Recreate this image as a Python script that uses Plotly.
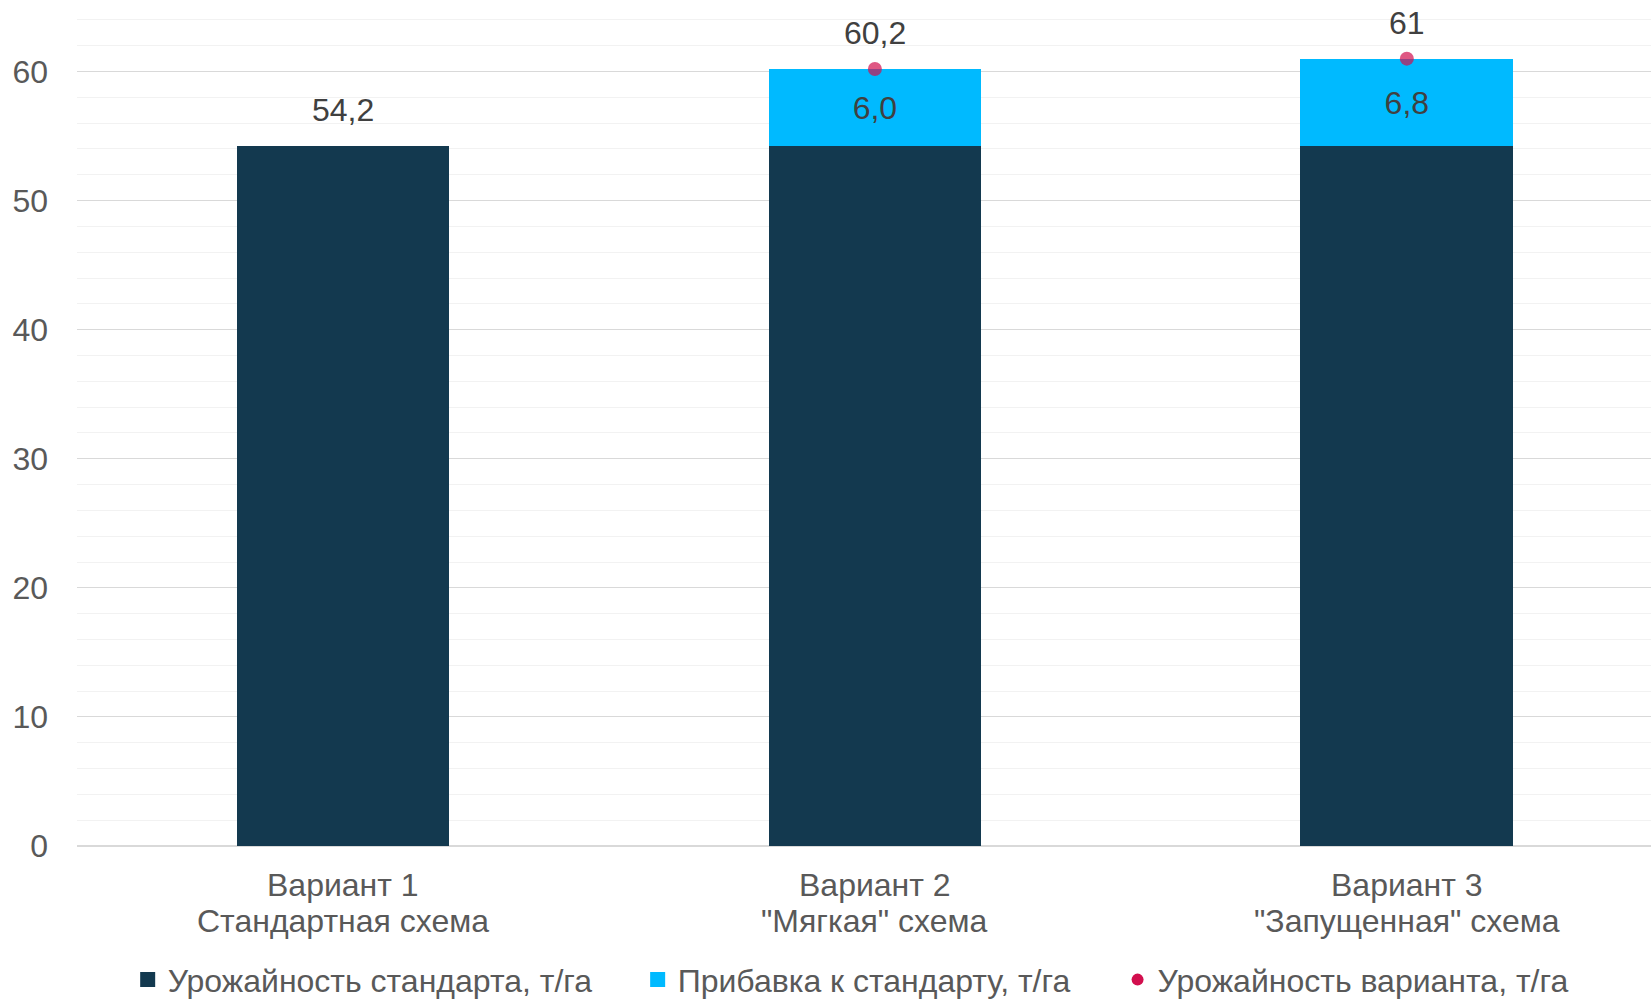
import plotly.graph_objects as go

# Yield data by treatment variant
variant_names = ["Вариант 1", "Вариант 2", "Вариант 3"]
scheme_names = ["Стандартная схема", "\"Мягкая\" схема", "\"Запущенная\" схема"]
standard_yield = [54.2, 54.2, 54.2]      # т/га
increase = [None, 6.0, 6.8]              # т/га
variant_yield = [54.2, 60.2, 61]         # т/га
variant_labels = ["54,2", "60,2", "61"]
increase_labels = ["", "6,0", "6,8"]
series_names = ["Урожайность стандарта, т/га",
                "Прибавка к стандарту, т/га",
                "Урожайность варианта, т/га"]

NAVY = "#13394F"
CYAN = "#00BAFF"
RED = "#D20F4E"
FONT = "Liberation Sans, Arial, sans-serif"
FS = 32
TXT = "#595959"
LBL = "#404040"

x = list(range(len(variant_names)))

fig = go.Figure()
fig.add_trace(go.Bar(
    x=x, y=standard_yield, name=series_names[0],
    marker=dict(color=NAVY, line=dict(width=0)), width=0.4,
    showlegend=False,
))
fig.add_trace(go.Bar(
    x=x, y=increase, name=series_names[1],
    marker=dict(color=CYAN, line=dict(width=0)), width=0.4,
    text=increase_labels, textposition="inside", insidetextanchor="middle",
    textfont=dict(family=FONT, size=FS, color=LBL),
    showlegend=False,
))
fig.add_trace(go.Scatter(
    x=x, y=variant_yield, name=series_names[2], mode="markers",
    marker=dict(color=RED, size=[0, 14, 14], line=dict(width=0)),
    showlegend=False,
))

# legend entries (one legend box per series)
legend_specs = [("legend", "square", NAVY, 15),
                ("legend2", "square", CYAN, 15),
                ("legend3", "circle", RED, 12)]
for name, (lg, sym, col, sz) in zip(series_names, legend_specs):
    fig.add_trace(go.Scatter(
        x=[None], y=[None], mode="markers", name=name, legend=lg,
        marker=dict(symbol=sym, color=col, size=sz, line=dict(width=0)),
        showlegend=True, hoverinfo="skip",
    ))

# totals above the columns
for xi, yi, lab in zip(x, variant_yield, variant_labels):
    fig.add_annotation(x=xi, y=yi, text=lab, showarrow=False, yshift=36,
                       font=dict(family=FONT, size=FS, color=LBL))

# two-line category labels under the axis
for xi, v, s in zip(x, variant_names, scheme_names):
    fig.add_annotation(x=xi, xref="x", y=0, yref="paper", yanchor="middle",
                       text=v, showarrow=False, yshift=-39,
                       font=dict(family=FONT, size=FS, color=TXT))
    fig.add_annotation(x=xi, xref="x", y=0, yref="paper", yanchor="middle",
                       text=s, showarrow=False, yshift=-75,
                       font=dict(family=FONT, size=FS, color=TXT))

legend_common = dict(orientation="h", yanchor="middle", y=-0.1595, xanchor="left",
                     font=dict(family=FONT, size=FS, color=TXT),
                     bgcolor="rgba(0,0,0,0)", borderwidth=0)

fig.update_layout(
    width=1651, height=1001,
    margin=dict(l=77, r=0, t=7, b=155, autoexpand=False),
    barmode="stack",
    plot_bgcolor="white", paper_bgcolor="white",
    font=dict(family=FONT, size=FS, color=TXT),
    showlegend=True,
    legend=dict(x=0.0322, **legend_common),
    legend2=dict(x=0.3562, **legend_common),
    legend3=dict(x=0.6611, **legend_common),
    xaxis=dict(
        range=[-0.5, 2.459], showticklabels=False,
        showgrid=False, zeroline=False, showline=False, ticks="",
    ),
    yaxis=dict(
        range=[0, 65], dtick=10, tick0=0,
        showgrid=True, gridcolor="#D9D9D9", gridwidth=1,
        zeroline=True, zerolinecolor="#D9D9D9", zerolinewidth=2,
        showline=False, ticks="", ticklabelstandoff=28,
        tickfont=dict(family=FONT, size=FS, color=TXT),
        minor=dict(dtick=2, showgrid=True, gridcolor="#F2F2F2", gridwidth=1),
    ),
)

fig.write_html("out.html")
